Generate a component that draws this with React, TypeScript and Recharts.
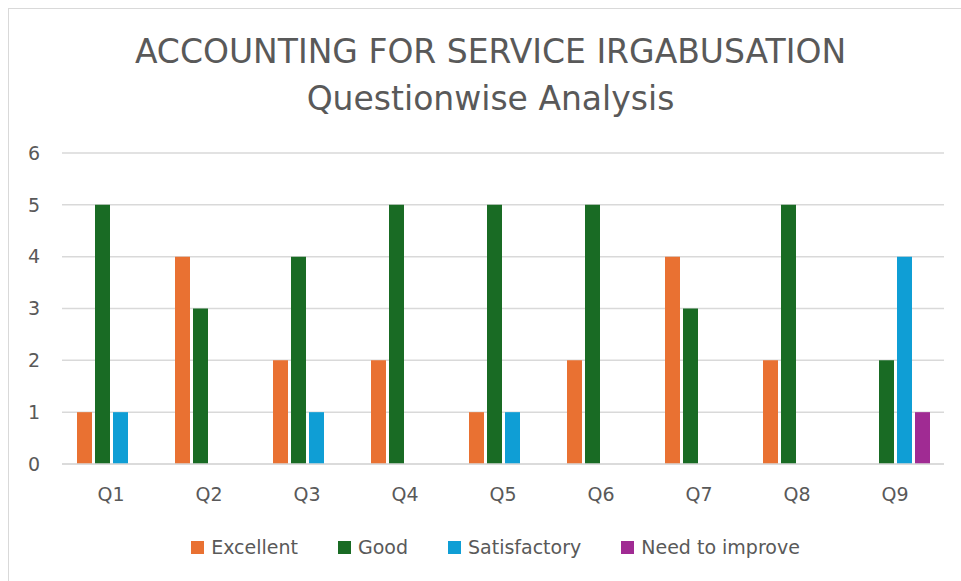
import { Bar, BarChart, CartesianGrid, Legend, XAxis, YAxis } from "recharts"

const questions = ["Q1", "Q2", "Q3", "Q4", "Q5", "Q6", "Q7", "Q8", "Q9"]
const excellent = [1, 4, 2, 2, 1, 2, 4, 2, 0]
const good = [5, 3, 4, 5, 5, 5, 3, 5, 2]
const satisfactory = [1, 0, 1, 0, 1, 0, 0, 0, 4]
const needToImprove = [0, 0, 0, 0, 0, 0, 0, 0, 1]
const yTicks = [0, 1, 2, 3, 4, 5, 6]

const series = [
  { key: "excellent", name: "Excellent", color: "#E97132" },
  { key: "good", name: "Good", color: "#196B24" },
  { key: "satisfactory", name: "Satisfactory", color: "#0F9ED5" },
  { key: "needToImprove", name: "Need to improve", color: "#A02B93" },
]

const data = questions.map((q, i) => ({
  q,
  excellent: excellent[i],
  good: good[i],
  satisfactory: satisfactory[i],
  needToImprove: needToImprove[i],
}))

const font = "'DejaVu Sans', sans-serif"
const textColor = "#595959"

function ChartLegend() {
  return (
    <div
      style={{
        display: "flex",
        justifyContent: "center",
        gap: 40,
        fontFamily: font,
        fontSize: 19,
        lineHeight: "22px",
        color: textColor,
        paddingLeft: 47,
      }}
    >
      {series.map((s) => (
        <div key={s.key} style={{ display: "flex", alignItems: "center" }}>
          <span
            style={{
              width: 13,
              height: 13,
              background: s.color,
              marginRight: 7,
              display: "inline-block",
            }}
          />
          <span>{s.name}</span>
        </div>
      ))}
    </div>
  )
}

export default function App() {
  return (
    <div
      style={{
        position: "fixed",
        left: 0,
        top: 0,
        width: 961,
        height: 581,
        background: "#fff",
        overflow: "hidden",
      }}
    >
      <div
        style={{
          position: "absolute",
          left: 8,
          top: 8,
          width: 970,
          height: 590,
          borderLeft: "1px solid #d9d9d9",
          borderTop: "1px solid #d9d9d9",
        }}
      />
      <div
        style={{
          position: "absolute",
          left: 0,
          top: 28,
          width: 981,
          textAlign: "center",
          fontFamily: font,
          color: textColor,
          fontSize: 33,
          lineHeight: "47px",
        }}
      >
        <div>ACCOUNTING FOR SERVICE IRGABUSATION</div>
        <div>Questionwise Analysis</div>
      </div>
      <div style={{ position: "absolute", left: 0, top: 0 }}>
        <BarChart
          width={961}
          height={581}
          data={data}
          margin={{ top: 153, right: 17, left: 0, bottom: 57 }}
          barCategoryGap={15}
          barGap={3}
        >
          <CartesianGrid stroke="#d9d9d9" strokeWidth={1.5} vertical={false} />
          <XAxis
            dataKey="q"
            height={30}
            tickLine={false}
            axisLine={{ stroke: "#d9d9d9", strokeWidth: 1.5 }}
            tickSize={0}
            tickMargin={24}
            tick={{ fill: textColor, fontSize: 19, fontFamily: font }}
          />
          <YAxis
            width={62}
            domain={[0, 6]}
            ticks={yTicks}
            tickLine={false}
            axisLine={false}
            tickSize={0}
            tickMargin={22}
            tick={{ fill: textColor, fontSize: 19, fontFamily: font }}
          />
          <Legend
            height={30}
            verticalAlign="bottom"
            wrapperStyle={{ top: 536, bottom: "auto" }}
            content={() => <ChartLegend />}
          />
          {series.map((s) => (
            <Bar
              key={s.key}
              dataKey={s.key}
              name={s.name}
              fill={s.color}
              isAnimationActive={false}
            />
          ))}
        </BarChart>
      </div>
    </div>
  )
}
